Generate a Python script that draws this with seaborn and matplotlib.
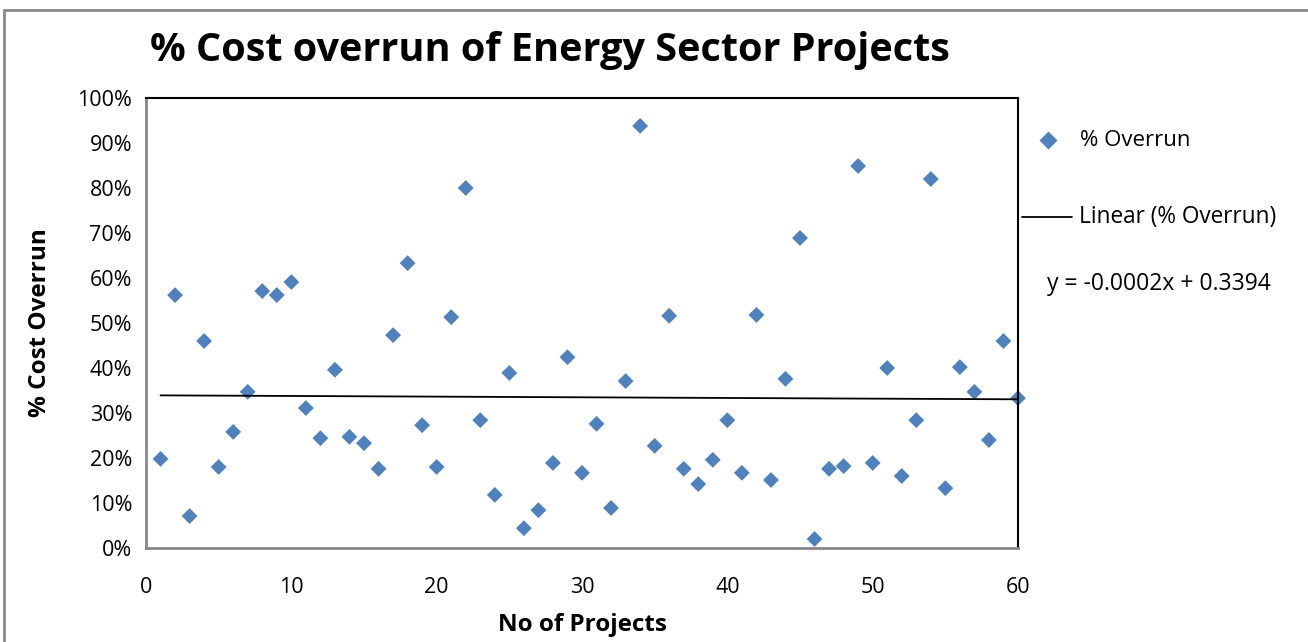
import numpy as np
import pandas as pd
import matplotlib
matplotlib.use("Agg")
import matplotlib.pyplot as plt
import seaborn as sns
from matplotlib.patches import Rectangle
from matplotlib.lines import Line2D
from matplotlib.ticker import PercentFormatter

# data (% overrun per project, as fractions)
projects = list(range(1, 61))
overrun = [
    0.198, 0.562, 0.071, 0.460, 0.180, 0.258, 0.347, 0.571, 0.562, 0.591,
    0.311, 0.244, 0.396, 0.247, 0.233, 0.176, 0.473, 0.633, 0.273, 0.180,
    0.513, 0.800, 0.284, 0.118, 0.389, 0.044, 0.084, 0.189, 0.424, 0.167,
    0.276, 0.089, 0.371, 0.938, 0.227, 0.516, 0.176, 0.142, 0.196, 0.284,
    0.167, 0.518, 0.151, 0.376, 0.689, 0.020, 0.176, 0.182, 0.849, 0.189,
    0.400, 0.160, 0.284, 0.820, 0.133, 0.402, 0.347, 0.240, 0.460, 0.333,
]
x_ticks = [0, 10, 20, 30, 40, 50, 60]
y_ticks = [0.0, 0.1, 0.2, 0.3, 0.4, 0.5, 0.6, 0.7, 0.8, 0.9, 1.0]

df = pd.DataFrame({"No of Projects": projects, "% Overrun": overrun})

sns.set_theme(style="white")
plt.rcParams["font.family"] = ["Open Sans", "DejaVu Sans"]
plt.rcParams["text.color"] = "black"
plt.rcParams["axes.labelcolor"] = "black"
plt.rcParams["xtick.color"] = "black"
plt.rcParams["ytick.color"] = "black"

blue = "#4F81BD"
fig = plt.figure(figsize=(13.08, 6.42), dpi=100)
ax = fig.add_axes([146 / 1308, 1 - 548 / 642, (1018 - 146) / 1308, (548 - 98) / 642])

sns.scatterplot(data=df, x="No of Projects", y="% Overrun", ax=ax, marker="D",
                s=65, color=blue, edgecolor="none", clip_on=False, legend=False)
sns.regplot(data=df, x="No of Projects", y="% Overrun", ax=ax, scatter=False,
            ci=None, truncate=True, line_kws={"color": "black", "lw": 1.3})

ax.set_xlim(0, 60)
ax.set_ylim(0, 1)
ax.set_xticks(x_ticks)
ax.set_yticks(y_ticks)
ax.yaxis.set_major_formatter(PercentFormatter(1.0, decimals=0))
ax.tick_params(axis="both", which="major", labelsize=15.5, length=6, width=1.5,
               color="#888888", labelcolor="black", direction="out")
ax.tick_params(axis="x", pad=15)
ax.tick_params(axis="y", pad=4)
for side in ["left", "bottom"]:
    ax.spines[side].set_color("#888888")
    ax.spines[side].set_linewidth(2)
for side in ["top", "right"]:
    ax.spines[side].set_color("black")
    ax.spines[side].set_linewidth(1.5)

ax.set_xlabel("No of Projects", fontsize=17.5, fontweight="bold", labelpad=11)
ax.set_ylabel("% Cost Overrun", fontsize=17.5, fontweight="bold", labelpad=18)

fig.text(150 / 1308, 1 - 50 / 642, "% Cost overrun of Energy Sector Projects",
         fontsize=28.5, fontweight="bold", va="center", ha="left")

# legend entries drawn as in the reference
fig.add_artist(Line2D([1048 / 1308], [1 - 140 / 642], marker="D", markersize=9,
                      color=blue, markeredgecolor="none", linestyle="none"))
fig.text(1080 / 1308, 1 - 140 / 642, "% Overrun", fontsize=16, va="center")
fig.add_artist(Line2D([1022 / 1308, 1072 / 1308], [1 - 217 / 642, 1 - 217 / 642],
                      color="black", lw=1.3))
fig.text(1079 / 1308, 1 - 217 / 642, "Linear (% Overrun)", fontsize=16.3, va="center")
fig.text(1047 / 1308, 1 - 284 / 642, "y = -0.0002x + 0.3394", fontsize=16.5, va="center")

# outer chart border
fig.add_artist(Rectangle((4 / 1308, -0.1), 1.2, 1 - 10 / 642 + 0.1,
                         transform=fig.transFigure, fill=False,
                         edgecolor="#8a8a8a", lw=2))

fig.savefig("out.png", dpi=100)
